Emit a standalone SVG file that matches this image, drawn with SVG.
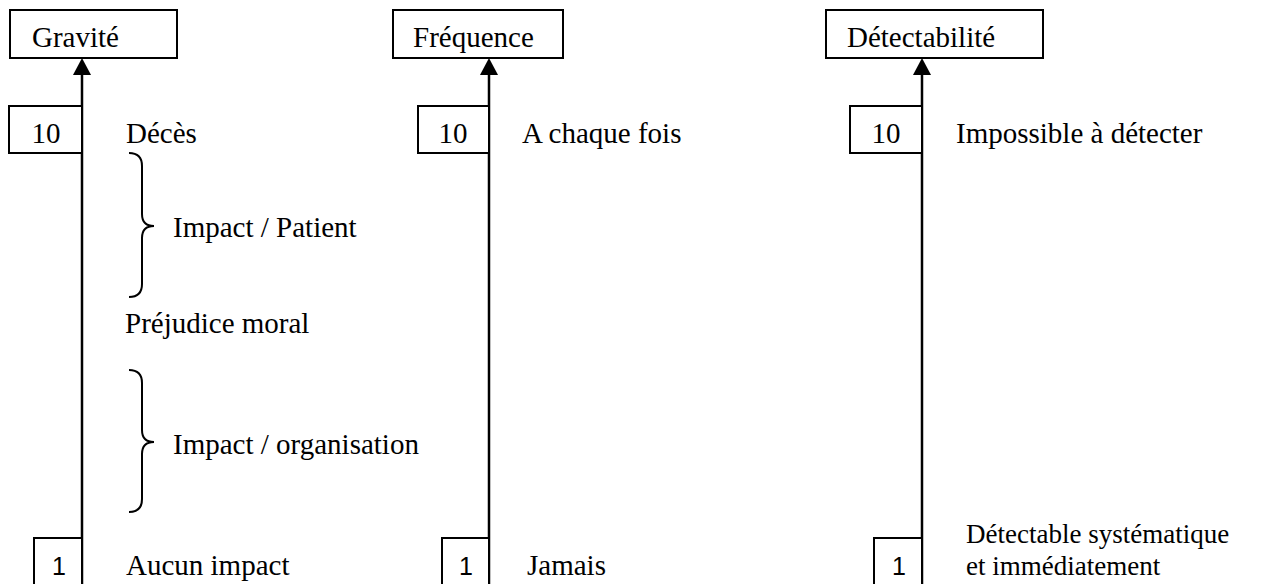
<svg xmlns="http://www.w3.org/2000/svg" width="1269" height="584" viewBox="0 0 1269 584">
<defs>
<style>
.box{fill:#fff;stroke:#000;stroke-width:2}
.t{font-family:"Liberation Serif","Times New Roman",serif;font-size:29px;fill:#000}
.s{font-family:"Liberation Serif","Times New Roman",serif;font-size:27px;fill:#000}
.n{font-family:"Liberation Sans",Arial,sans-serif;font-size:25px;fill:#000}
.ax{stroke:#000;stroke-width:2.5;fill:none}
.br{stroke:#000;stroke-width:2;fill:none}
</style>
</defs>
<rect width="1269" height="584" fill="#fff"/>
<g id="connectors">
<line class="ax" x1="82" y1="584" x2="82" y2="75"/>
<path d="M82,58 L91,75 L73,75 Z" fill="#000"/>
<line class="ax" x1="489" y1="584" x2="489" y2="75"/>
<path d="M489,58 L498,75 L480,75 Z" fill="#000"/>
<line class="ax" x1="922" y1="584" x2="922" y2="75"/>
<path d="M922,58 L931,75 L913,75 Z" fill="#000"/>
</g>
<g id="gravite">
<rect class="box" x="10" y="10" width="167" height="48"/>
<text class="t" x="32" y="47">Gravité</text>
</g>
<g id="g10">
<rect class="box" x="9" y="106" width="73" height="47"/>
<text class="t" x="46" y="143" text-anchor="middle">10</text>
<text class="t" x="126" y="143">Décès</text>
</g>
<g id="brace-patient">
<path class="br" d="M129,153 Q142,153 142,166 L142,214 Q142,226 154,226 Q142,226 142,238 L142,284 Q142,297 129,297"/>
<text class="t" x="173" y="237">Impact / Patient</text>
</g>
<g id="prejudice">
<text class="t" x="125" y="333">Préjudice moral</text>
</g>
<g id="brace-organisation">
<path class="br" d="M129,370 Q142,370 142,383 L142,430 Q142,442 154,442 Q142,442 142,454 L142,499 Q142,512 129,512"/>
<text class="t" x="173" y="454">Impact / organisation</text>
</g>
<g id="g1">
<rect class="box" x="34" y="538" width="48" height="60"/>
<text class="n" x="59" y="575" text-anchor="middle">1</text>
<text class="t" x="126" y="575">Aucun impact</text>
</g>
<g id="frequence">
<rect class="box" x="393" y="10" width="170" height="48"/>
<text class="t" x="413" y="47">Fréquence</text>
</g>
<g id="f10">
<rect class="box" x="418" y="106" width="71" height="47"/>
<text class="t" x="453" y="143" text-anchor="middle">10</text>
<text class="t" x="522" y="143">A chaque fois</text>
</g>
<g id="f1">
<rect class="box" x="442" y="538" width="47" height="60"/>
<text class="n" x="466" y="575" text-anchor="middle">1</text>
<text class="t" x="527" y="575">Jamais</text>
</g>
<g id="detectabilite">
<rect class="box" x="826" y="10" width="217" height="48"/>
<text class="t" x="847" y="47">Détectabilité</text>
</g>
<g id="d10">
<rect class="box" x="850" y="106" width="72" height="47"/>
<text class="t" x="886" y="143" text-anchor="middle">10</text>
<text class="t" x="956" y="143">Impossible à détecter</text>
</g>
<g id="d1">
<rect class="box" x="874" y="538" width="48" height="60"/>
<text class="n" x="899" y="575" text-anchor="middle">1</text>
<text class="s" x="966" y="543">Détectable systématique</text>
<text class="s" x="966" y="575">et immédiatement</text>
</g>
</svg>
